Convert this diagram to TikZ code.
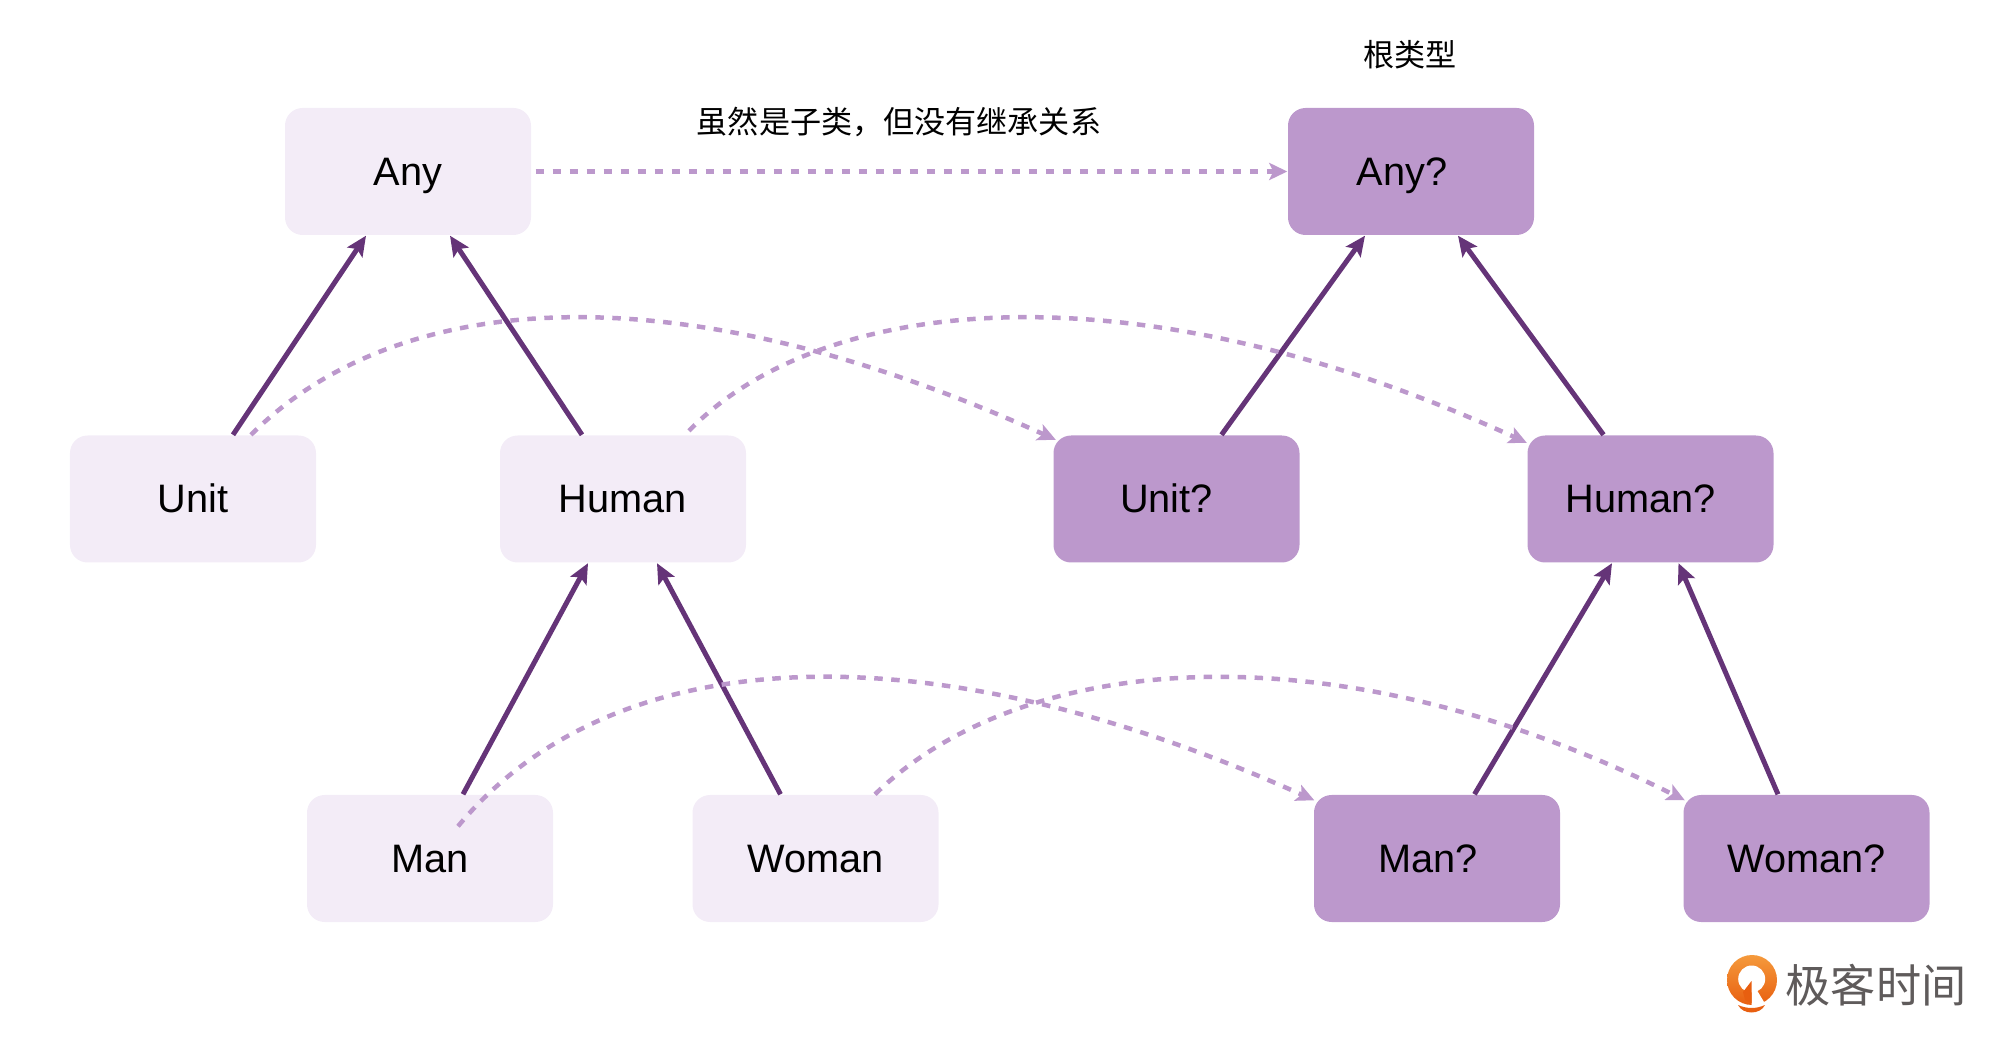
\documentclass[tikz,border=0pt]{standalone}
\usepackage{fontspec}
\setmainfont{Liberation Sans}
\newfontfamily\cjk{Noto Sans CJK SC}
\definecolor{primary}{HTML}{653478}
\definecolor{secondary}{HTML}{BC98CC}
\definecolor{pale}{HTML}{F3ECF7}
\definecolor{logotext}{HTML}{5F5B5B}
\definecolor{logotop}{HTML}{F59A3C}
\definecolor{logobot}{HTML}{E85F10}
\usetikzlibrary{arrows.meta}

\begin{document}
\begin{tikzpicture}[
  base/.style={rectangle,fill=pale,rounded corners=5pt,minimum width=2.46cm,
               minimum height=1.27cm,inner sep=0pt,text height=.31cm,text depth=.03cm,
               font=\fontsize{11.3}{13}\selectfont},
  opt/.style={base,fill=secondary},
  note/.style={font=\cjk\fontsize{8.85}{10}\selectfont},
  sub/.style={-{Stealth[length=.2cm,width=.18cm,inset=.04cm]},line width=.05cm,color=primary},
  rel/.style={-{Stealth[length=.18cm,width=.17cm,inset=.04cm]},line width=.045cm,color=secondary,
              dash pattern=on .085cm off .085cm}
]
  \useasboundingbox (0,0) rectangle (20,10.36);
  % left tree
  \node[base] (any) at (4.08,8.645) {Any};
  \node[base] (unit) at (1.93,5.37) {Unit};
  \node[base] (human) at (6.23,5.37) {Human};
  \node[base] (man) at (4.30,1.775) {Man};
  \node[base] (woman) at (8.155,1.775) {Woman};
  % right tree
  \node[opt] (anyq) at (14.11,8.645) {Any?\kern.18cm};
  \node[opt] (unitq) at (11.765,5.37) {Unit?\kern.2cm};
  \node[opt] (humanq) at (16.505,5.37) {Human?\kern.19cm};
  \node[opt] (manq) at (14.37,1.775) {Man?\kern.18cm};
  \node[opt] (womanq) at (18.065,1.775) {Woman?};
  \node[note] (root) at (14.10,9.81) {根类型};
  \node[note] (hint) at (8.99,9.14) {虽然是子类，但没有继承关系};

  \draw[sub] ([xshift=.40cm]unit.north)--([xshift=-.42cm]any.south);
  \draw[sub] ([xshift=-.41cm]human.north)--([xshift=.42cm]any.south);
  \draw[sub] ([xshift=.33cm]man.north)--([xshift=-.35cm]human.south);
  \draw[sub] ([xshift=-.35cm]woman.north)--([xshift=.34cm]human.south);
  \draw[sub] ([xshift=.45cm]unitq.north)--([xshift=-.46cm]anyq.south);
  \draw[sub] ([xshift=-.47cm]humanq.north)--([xshift=.47cm]anyq.south);
  \draw[sub] ([xshift=.375cm]manq.north)--([xshift=-.385cm]humanq.south);
  \draw[sub] ([xshift=-.285cm]womanq.north)--([xshift=.28cm]humanq.south);

  \draw[rel] ([xshift=.04cm]any.east)--(anyq.west);
  \draw[rel] ([xshift=.58cm]unit.north) .. controls (3.9,7.4) and (6.6,7.75) .. ([shift={(.03cm,-.05cm)}]unitq.north west);
  \draw[rel] ([shift={(.66cm,.04cm)}]human.north) .. controls (8.2,7.4) and (11.3,7.75) .. ([yshift=-.08cm]humanq.north west);
  \draw[rel] ([shift={(.28cm,-.32cm)}]man.north) .. controls (6.1,3.93) and (9.2,4.13) .. ([shift={(.01cm,-.06cm)}]manq.north west);
  \draw[rel] ([xshift=.595cm]woman.north) .. controls (10.2,3.83) and (13.3,4.13) .. ([shift={(.02cm,-.06cm)}]womanq.north west);

  % logo
  \shade[top color=logotop,bottom color=logobot] (17.52,.56) circle (.25);
  \fill[white] (17.517,.57) circle (.135);
  \fill[white] (17.515,.55) -- (17.58,.44) -- (17.64,.34) -- (17.62,.29) -- (17.515,.29) -- cycle;
  \fill[logobot] (17.515,.55) -- (17.515,.33) -- (17.45,.36) -- (17.43,.44) -- cycle;
  \fill[logobot] (17.38,.31) .. controls (17.47,.27) and (17.56,.27) .. (17.65,.31)
    .. controls (17.60,.21) and (17.43,.21) .. cycle;
  \node[font=\cjk\fontsize{12.85}{14}\selectfont,color=logotext,inner sep=0pt] (brand) at (18.76,.51) {极客时间};
\end{tikzpicture}
\end{document}
